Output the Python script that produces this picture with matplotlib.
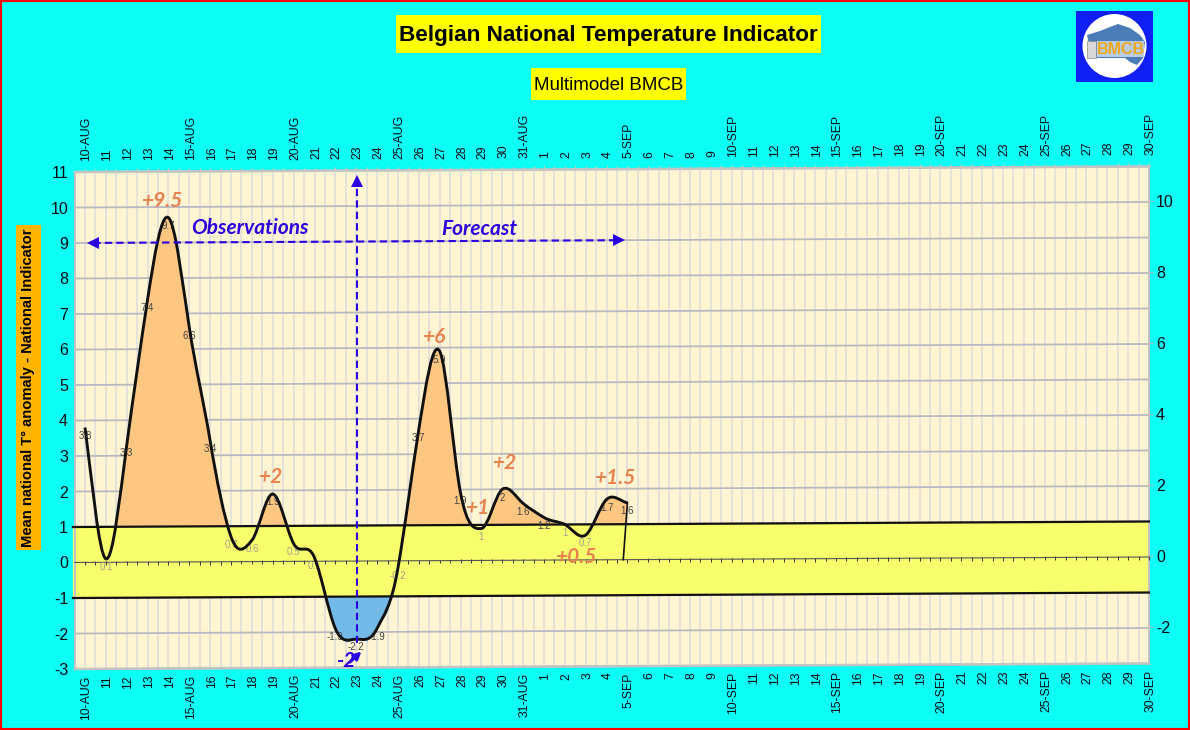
import numpy as np
import matplotlib
matplotlib.use('Agg')
import matplotlib.pyplot as plt
from matplotlib.path import Path
from matplotlib.patches import Rectangle, Circle, Polygon, PathPatch
from matplotlib.transforms import Affine2D

# tick labels, one per day
day_labels = ['10-AUG', '11', '12', '13', '14', '15-AUG', '16', '17', '18', '19', '20-AUG', '21', '22', '23', '24',
              '25-AUG', '26', '27', '28', '29', '30', '31-AUG', '1', '2', '3', '4', '5-SEP', '6', '7', '8', '9',
              '10-SEP', '11', '12', '13', '14', '15-SEP', '16', '17', '18', '19', '20-SEP', '21', '22', '23', '24',
              '25-SEP', '26', '27', '28', '29', '30-SEP']

# national indicator
values = [3.8, 0.1, 3.3, 7.4, 9.7, 6.6, 3.4, 0.7, 0.6, 1.9, 0.5, 0.1, -1.9, -2.2, -1.9, -0.2, 3.7, 5.9, 1.9, 0.9, 2.0,
          1.6, 1.2, 1.0, 0.7, 1.7, 1.6]
value_labels = ['3.8', '0.1', '3.3', '7.4', '9.7', '6.6', '3.4', '0.7', '0.6', '1.9', '0.5', '0.1', '-1.9', '-2.2',
                '-1.9', '-0.2', '3.7', '5.9', '1.9', '1', '2', '1.6', '1.2', '1', '0.7', '1.7', '1.6']
left_ticks = list(range(-3, 12))
right_ticks = [-2, 0, 2, 4, 6, 8, 10]

# extreme value callouts
callouts = ['+9.5', '+2', '+6', '+2', '+1', '+1.5', '+0.5']
callout_x = [3.7, 8.87, 16.73, 20.09, 18.8, 25.4, 23.54]
callout_y = [10.17, 2.38, 6.3, 2.74, 1.48, 2.3, 0.08]

plt.rcParams['font.family'] = ['Liberation Sans', 'DejaVu Sans']
plt.rcParams['axes.unicode_minus'] = False
cyan = '#0BFFF4'
blue = '#2B00E0'
orange_txt = '#E8824F'

W, H = 1190, 730
fig = plt.figure(figsize=(W / 100, H / 100), dpi=100, facecolor=cyan)
ax = fig.add_axes([75 / W, (H - 669) / H, (1149 - 75) / W, (669 - 172) / H])
ax.set_xlim(-0.48, 51)
ax.set_ylim(-3, 11)
ax.patch.set_visible(False)
for s in ax.spines.values():
    s.set_visible(False)

# the whole plot in the original leans up a little to the right
slope = 5.5 / 1074
tilt = Affine2D.from_values(1, slope, 0, 1, 0, -slope * 75)
tr = ax.transData + tilt

x = np.arange(len(values))
y = np.array(values)

# smoothed line like the spreadsheet one, bezier through the daily values
grad = np.gradient(y) * 1.2
verts = [(x[0], y[0])]
codes = [Path.MOVETO]
for i in range(len(x) - 1):
    verts += [(x[i] + 1 / 3, y[i] + grad[i] / 3), (x[i + 1] - 1 / 3, y[i + 1] - grad[i + 1] / 3), (x[i + 1], y[i + 1])]
    codes += [Path.CURVE4] * 3
curve = Path(verts, codes)
flat = curve.to_polygons(closed_only=False)[0]
fx, fy = flat[:, 0], flat[:, 1]

# background, band, grid
ax.add_patch(Rectangle((-0.48, -3), 51.48, 14, fc='#FFF5D2', ec='none', transform=tr, zorder=0, clip_on=False))
ax.add_patch(Rectangle((-0.58, -1), 51.58, 2, fc='#F8FF6C', ec='none', transform=tr, zorder=1, clip_on=False))
half = np.arange(0, 51.01, 0.5)
ax.vlines(half, -3, 11, color='#E4E1DA', lw=1.3, transform=tr, zorder=0.5, clip_on=False)
for v in left_ticks:
    ax.plot([-0.48, 51], [v, v], color='#B9B9C2', lw=1.3, transform=tr, zorder=0.6, clip_on=False)
ax.plot([-0.48, 51], [11, 11], color='#C4C4C4', lw=1.8, transform=tr, zorder=2, clip_on=False)
ax.plot([-0.48, 51], [-3, -3], color='#C4C4C4', lw=1.8, transform=tr, zorder=2, clip_on=False)
ax.plot([-0.48, -0.48], [-3, 11], color='#C4C4C4', lw=1.5, transform=tr, zorder=2, clip_on=False)
ax.plot([51, 51], [-3, 11], color='#C4C4C4', lw=1.5, transform=tr, zorder=2, clip_on=False)
ax.vlines(half, 11, 11.09, color='#C8C8C0', lw=1, transform=tr, zorder=2, clip_on=False)
ax.vlines(half, -0.08, 0.03, color='#333333', lw=0.7, transform=tr, zorder=2.2, clip_on=False)
ax.plot([-0.48, 51], [0, 0], color='#555555', lw=0.8, transform=tr, zorder=2.2, clip_on=False)

# anomalies outside the band, the first falling stretch stays empty in the original
ax.fill_between(fx, fy, 1, where=(fy >= 1) & (fx >= 1), interpolate=True, color='#FDC681', lw=0, transform=tr, zorder=1.5,
                clip_on=False)
ax.fill_between(fx, fy, -1, where=fy <= -1, interpolate=True, color='#73BAE8', lw=0, transform=tr, zorder=1.5, clip_on=False)

for v in [1, -1]:
    ax.plot([-0.58, 51], [v, v], color='#111111', lw=1.6, transform=tr, zorder=3, clip_on=False)

# value labels, hardly readable in the original too
for xi, yi, lab in zip(x, y, value_labels):
    col = '#A0A090' if abs(yi) < 1 or lab == '1' else '#444444'
    ax.annotate(lab, (xi, yi), xycoords=tr, xytext=(0, -6), textcoords='offset points', ha='center', va='center',
                fontsize=7, color=col, zorder=3.5, annotation_clip=False)

ax.add_patch(PathPatch(curve, fc='none', ec='#111111', lw=2.1, transform=tr, zorder=4, clip_on=False))
ax.plot([26, 25.8], [1.6, 0], color='#111111', lw=1.2, transform=tr, zorder=4, clip_on=False)

# observations / forecast arrows
ax.plot([0.4, 25.5], [9, 9], color=blue, lw=1.5, ls=(0, (3.5, 2)), transform=tr, zorder=5, clip_on=False)
ax.plot([0.4], [9], marker='<', color=blue, ms=8, mew=0, transform=tr, zorder=5, clip_on=False)
ax.plot([25.6], [9], marker='>', color=blue, ms=8, mew=0, transform=tr, zorder=5, clip_on=False)
ax.plot([13.04, 13.04], [-2.3, 10.6], color=blue, lw=1.5, ls=(0, (3.5, 2)), transform=tr, zorder=5, clip_on=False)
ax.plot([13.04], [10.7], marker='^', color=blue, ms=8, mew=0, transform=tr, zorder=5, clip_on=False)
ax.annotate('', xy=(13.25, -2.55), xycoords=tr, xytext=(12.7, -2.85), textcoords=tr,
            arrowprops=dict(arrowstyle='-|>', color=blue, lw=2, shrinkA=0, shrinkB=0, mutation_scale=11),
            zorder=6, annotation_clip=False)

ax.text(7.9, 9.4, 'Observations', color=blue, fontsize=15, family='Lato', weight='bold', style='italic',
        ha='center', va='center', transform=tr, zorder=6)
ax.text(18.89, 9.34, 'Forecast', color=blue, fontsize=15, family='Lato', weight='bold', style='italic',
        ha='center', va='center', transform=tr, zorder=6)
for lab, cx, cy in zip(callouts, callout_x, callout_y):
    ax.text(cx, cy, lab, color=orange_txt, fontsize=15, family='Lato', weight='bold', style='italic',
            ha='center', va='center', transform=tr, zorder=6)
ax.text(12.5, -2.81, '-2', color=blue, fontsize=15, family='Lato', weight='bold', style='italic',
        ha='center', va='center', transform=tr, zorder=6)

# axes labels
ax.set_yticks(left_ticks)
ax.tick_params(axis='y', length=0, labelsize=11.5, pad=5, labelcolor='#0A0A14')
x_days = np.arange(len(day_labels))
ax.set_xticks(x_days)
ax.set_xticklabels(day_labels, rotation=90)
ax.tick_params(axis='x', length=0, labelsize=8.8, labeltop=True, labelbottom=True, pad=6, labelcolor='#0A0A14')
for pos, tick in zip(x_days, ax.xaxis.get_major_ticks()):
    lean = slope * (pos * 20.86 + 10)
    tick.label1.set_transform(tick.label1.get_transform() + Affine2D().translate(1.5, lean + 2))
    tick.label2.set_transform(tick.label2.get_transform() + Affine2D().translate(1.5, lean + 3))
    tick.label2.set_rotation(90)

axr = ax.twinx()
axr.set_ylim(-3 - 6.3 / 35.5, 11 - 6.3 / 35.5)
axr.patch.set_visible(False)
for s in axr.spines.values():
    s.set_visible(False)
axr.set_yticks(right_ticks)
axr.tick_params(axis='y', length=3, width=0.8, color='#B4B4BE', labelsize=11.5, pad=2, labelcolor='#0A0A14')

# headers
fig.patches.append(Rectangle((396 / W, 1 - 53 / H), 425 / W, 38 / H, transform=fig.transFigure, fc='#FFFF00', ec='none'))
fig.text(608.5 / W, 1 - 35.5 / H, 'Belgian National Temperature Indicator', fontsize=16.2, weight='bold', ha='center', va='center')
fig.patches.append(Rectangle((531 / W, 1 - 100 / H), 155 / W, 32 / H, transform=fig.transFigure, fc='#FFFF00', ec='none'))
fig.text(608.5 / W, 1 - 85 / H, 'Multimodel BMCB', fontsize=13.5, ha='center', va='center')
fig.patches.append(Rectangle((16 / W, 1 - 550 / H), 25 / W, 325 / H, transform=fig.transFigure, fc='#FFB400', ec='none'))
fig.text(28.5 / W, 1 - 388 / H, "Mean national T\u00b0 anomaly - National Indicator", fontsize=10.6, weight='bold', rotation=90,
         ha='center', va='center')

# logo
logo = fig.add_axes([1076 / W, 1 - 82 / H, 77 / W, 71 / H])
logo.set_xlim(0, 77)
logo.set_ylim(71, 0)
logo.axis('off')
logo.add_patch(Rectangle((0, 0), 77, 71, fc='#1020F5', ec='none'))
logo.add_patch(Circle((38.5, 35), 32, fc='white', ec='none'))
logo.add_patch(Polygon([(11, 24), (24, 20), (34, 16), (42, 13), (54, 17), (64, 24), (69, 31), (67, 47), (61, 54),
                        (54, 51), (49, 47), (21, 47), (14, 38)], fc='#4A7DB8', ec='none'))
logo.add_patch(Rectangle((21, 30), 47, 16, fc='#B9CDE6', ec='none'))
logo.text(45, 38.5, 'BMCB', color='#F0A818', fontsize=11.5, weight='bold', ha='center', va='center')
logo.add_patch(Rectangle((11, 30), 9, 17, fc='#D8D8D8', ec='#888888', lw=0.5))

# red border of the image
fig.patches.append(Rectangle((0, 0), 1, 1, transform=fig.transFigure, fc='none', ec='#FF0000', lw=3))

fig.savefig('out.png', dpi=100, facecolor=cyan)
